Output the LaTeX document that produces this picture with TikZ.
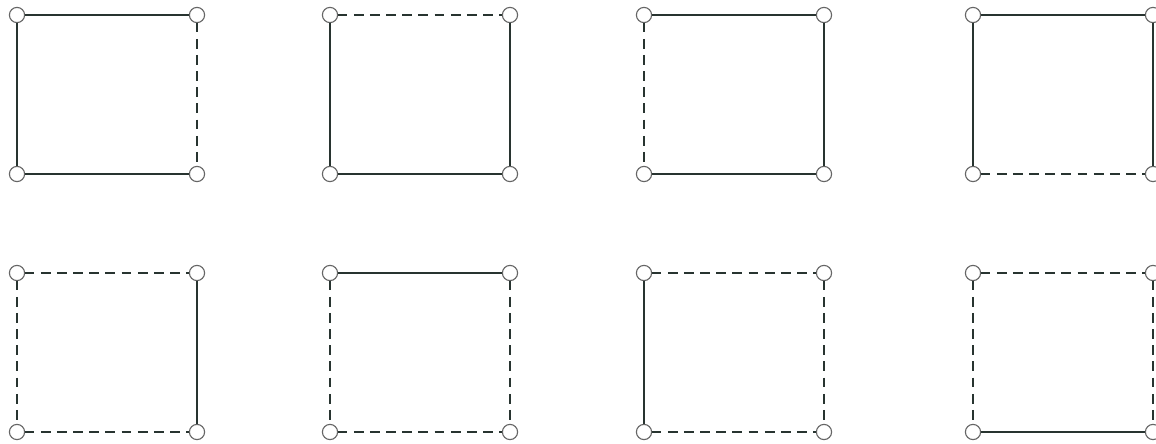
\documentclass[tikz,border=0pt]{standalone}
\usetikzlibrary{positioning}
\definecolor{edgegray}{RGB}{40,52,48}

\begin{document}
\begin{tikzpicture}[x=0.025cm, y=-0.025cm]
\tikzstyle{vStyle}=[shape = circle, minimum size = 0.38cm, inner sep = 0pt,
outer sep = 0pt, draw=black!60, fill=white, line width=0.8pt]
\tikzstyle{sStyle}=[line width=1.8pt, draw=edgegray]
\tikzstyle{dStyle}=[line width=1.8pt, draw=edgegray, dash pattern=on 7pt off 4.5pt]
\tikzset{every node/.style=vStyle}
\useasboundingbox (0,0) rectangle (1156,443);

% square k: corner (x,y), then top / left / bottom / right edge
\foreach \k/\x/\y/\t/\l/\b/\r in {1/17/15/sStyle/sStyle/sStyle/dStyle,
  2/330/15/dStyle/sStyle/sStyle/sStyle, 3/644/15/sStyle/dStyle/sStyle/sStyle,
  4/973/15/sStyle/sStyle/dStyle/sStyle, 5/17/273/dStyle/dStyle/dStyle/sStyle,
  6/330/273/sStyle/dStyle/dStyle/dStyle, 7/644/273/dStyle/sStyle/dStyle/dStyle,
  8/973/273/dStyle/dStyle/sStyle/dStyle}
{
	\draw (\x,\y) node (a\k) {} (\x+180,\y) node (b\k) {};
	\draw (\x,\y+159) node (c\k) {} (\x+180,\y+159) node (d\k) {};
	\draw[\t] (a\k) -- (b\k);
	\draw[\l] (a\k) -- (c\k);
	\draw[\b] (c\k) -- (d\k);
	\draw[\r] (b\k) -- (d\k);
}
\end{tikzpicture}
\end{document}
